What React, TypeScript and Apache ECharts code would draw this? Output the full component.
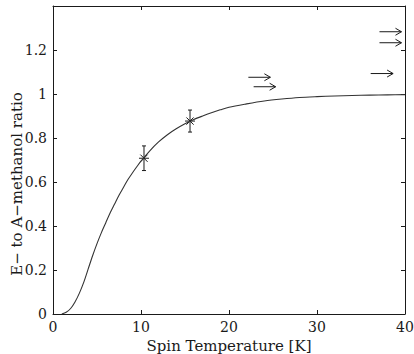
import React, { useEffect, useRef } from "react";
import * as echarts from "echarts";

// Fitted curve
const curveX = [1, 1.5, 2, 2.5, 3, 3.5, 4, 4.5, 5, 5.5, 6, 6.5, 7, 7.5, 8, 8.5, 9, 9.5, 10, 11, 12, 13, 14, 15, 16, 17, 18, 19, 20, 22, 24, 26, 28, 30, 32, 34, 36, 38, 40];
const curveY = [0, 0.008, 0.025, 0.055, 0.095, 0.145, 0.205, 0.265, 0.32, 0.37, 0.415, 0.46, 0.5, 0.54, 0.575, 0.61, 0.64, 0.668, 0.695, 0.742, 0.782, 0.815, 0.842, 0.865, 0.884, 0.9, 0.915, 0.928, 0.94, 0.955, 0.968, 0.977, 0.984, 0.988, 0.991, 0.993, 0.995, 0.996, 0.997];

// Measured points with error bars
const pointX = [10.34, 15.57];
const pointY = [0.708, 0.877];
const pointErr = [0.056, 0.05];

// Lower-limit arrows (start of arrow)
const arrowX = [22.2, 22.8, 36.1, 37.1, 37.1];
const arrowY = [1.076, 1.033, 1.093, 1.283, 1.233];
const arrowLen = [2.5, 2.5, 2.55, 2.5, 2.5];

const xTicks = [0, 10, 20, 30, 40];
const yTicks = [0, 0.2, 0.4, 0.6, 0.8, 1, 1.2];

const FONT = "DejaVu Serif";
const INK = "#1a1a1a";

export default function App() {
  const ref = useRef<HTMLDivElement>(null);
  useEffect(() => {
    if (!ref.current) return;
    const chart = echarts.init(ref.current, null, { renderer: "svg" });
    const axisCommon = {
      type: "value" as const,
      axisLine: { show: true, onZero: false, lineStyle: { color: INK, width: 1 } },
      axisTick: { show: true, inside: true, length: 4, lineStyle: { color: INK } },
      splitLine: { show: false },
    };
    chart.setOption({
      animation: false,
      backgroundColor: "#fff",
      grid: { left: 53, right: 9, top: 6, bottom: 40, containLabel: false, outerBoundsMode: "none" },
      xAxis: [
        {
          ...axisCommon,
          position: "bottom",
          min: xTicks[0],
          max: xTicks[xTicks.length - 1],
          interval: 10,
          axisLabel: { color: INK, fontFamily: FONT, fontSize: 14, margin: 6 },
          name: "Spin Temperature [K]",
          nameLocation: "middle",
          nameGap: 24,
          nameTextStyle: { color: INK, fontFamily: FONT, fontSize: 15 },
        },
        {
          ...axisCommon,
          position: "top",
          min: 0,
          max: 40,
          interval: 10,
          axisLabel: { show: false },
        },
      ],
      yAxis: [
        {
          ...axisCommon,
          position: "left",
          min: 0,
          max: 1.4,
          interval: 0.2,
          axisLabel: {
            color: INK,
            fontFamily: FONT,
            fontSize: 14,
            margin: 6,
            formatter: (v: number) => {
              const r = Math.round(v * 10) / 10;
              return yTicks.some((t) => Math.abs(t - r) < 1e-6) ? String(r) : "";
            },
          },
        },
        {
          ...axisCommon,
          position: "right",
          min: 0,
          max: 1.4,
          interval: 0.2,
          axisLabel: { show: false },
        },
      ],
      graphic: [
        {
          type: "text",
          x: 17,
          y: 184,
          rotation: Math.PI / 2,
          style: {
            text: "E\u2212 to A\u2212methanol ratio",
            fontFamily: FONT,
            fontSize: 15,
            fill: INK,
            align: "center",
            verticalAlign: "middle",
          },
        },
      ],
      series: [
        {
          type: "line",
          xAxisIndex: 0,
          yAxisIndex: 0,
          data: curveX.map((x, i) => [x, curveY[i]]),
          smooth: 0.3,
          symbol: "none",
          lineStyle: { color: "#333", width: 1.1 },
          silent: true,
        },
        {
          type: "custom",
          xAxisIndex: 0,
          yAxisIndex: 0,
          data: pointX.map((x, i) => [x, pointY[i], pointErr[i]]),
          renderItem: (params: any, api: any) => {
            const x = api.value(0);
            const y = api.value(1);
            const e = api.value(2);
            const c = api.coord([x, y]);
            const top = api.coord([x, y + e]);
            const bot = api.coord([x, y - e]);
            const st = { stroke: INK, lineWidth: 1, fill: "none" };
            const r = 5;
            const d = r * 0.72;
            const cap = 2;
            return {
              type: "group",
              children: [
                { type: "line", shape: { x1: c[0], y1: top[1], x2: c[0], y2: bot[1] }, style: st },
                { type: "line", shape: { x1: c[0] - cap, y1: top[1], x2: c[0] + cap, y2: top[1] }, style: st },
                { type: "line", shape: { x1: c[0] - cap, y1: bot[1], x2: c[0] + cap, y2: bot[1] }, style: st },
                { type: "line", shape: { x1: c[0] - r, y1: c[1], x2: c[0] + r, y2: c[1] }, style: st },
                { type: "line", shape: { x1: c[0] - d, y1: c[1] - d, x2: c[0] + d, y2: c[1] + d }, style: st },
                { type: "line", shape: { x1: c[0] - d, y1: c[1] + d, x2: c[0] + d, y2: c[1] - d }, style: st },
              ],
            };
          },
        },
        {
          type: "custom",
          xAxisIndex: 0,
          yAxisIndex: 0,
          data: arrowX.map((x, i) => [x, arrowY[i], arrowLen[i]]),
          renderItem: (params: any, api: any) => {
            const x = api.value(0);
            const y = api.value(1);
            const len = api.value(2);
            const s = api.coord([x, y]);
            const e = api.coord([x + len, y]);
            const st = { stroke: INK, lineWidth: 1, fill: "none" };
            return {
              type: "group",
              children: [
                { type: "line", shape: { x1: s[0], y1: s[1], x2: e[0], y2: e[1] }, style: st },
                {
                  type: "polyline",
                  shape: { points: [[e[0] - 6, e[1] - 3.5], [e[0], e[1]], [e[0] - 6, e[1] + 3.5]] },
                  style: st,
                },
              ],
            };
          },
        },
      ],
    });
    return () => chart.dispose();
  }, []);
  return <div ref={ref} style={{ width: 414, height: 354, position: "absolute", left: 0, top: 0 }} />;
}
